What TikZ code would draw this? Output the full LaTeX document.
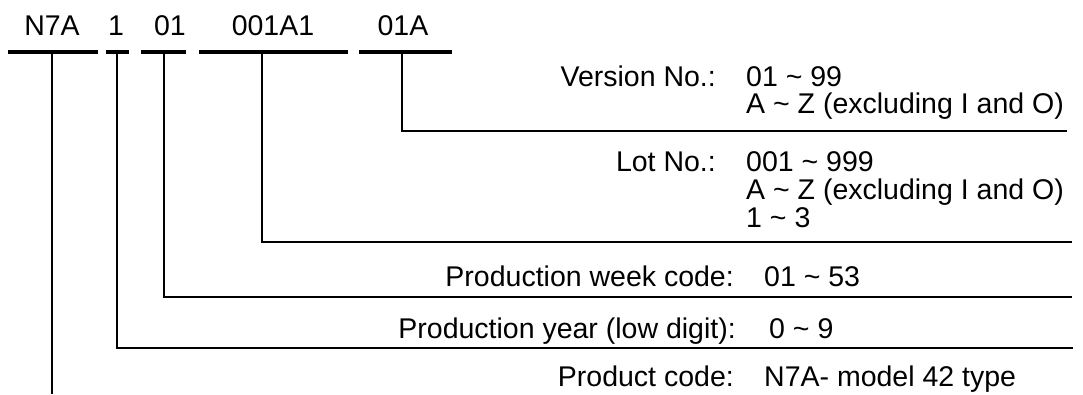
\documentclass[tikz,border=0pt]{standalone}
\usepackage{fontspec}
\setmainfont{Liberation Sans}
\begin{document}
\begin{tikzpicture}[x=1pt,y=-1pt,
  codebar/.style={line width=3.8pt},
  leader/.style={line width=1.6pt},
  txt/.style={font=\fontsize{28.5}{30}\selectfont, inner sep=0pt},
  lbl/.style={txt, anchor=base east},
  val/.style={txt, anchor=base west},
  code/.style={txt, anchor=base}]
\useasboundingbox (0,0) rectangle (1083,394);
% top code labels
\node[code] (tN) at (52,35) {N7A};
\node[code] (tY) at (116,35) {1};
\node[code] (tW) at (170,35) {01};
\node[code] (tL) at (273,35) {001A1};
\node[code] (tV) at (403,35) {01A};
% bars
\draw[codebar] (8,52) -- (98,52);
\draw[codebar] (106,52) -- (129,52);
\draw[codebar] (141,52) -- (186,52);
\draw[codebar] (199,52) -- (348,52);
\draw[codebar] (359,52) -- (452,52);
% leader start points and ends
\coordinate (sN) at (52,52);
\coordinate (sY) at (117,52);
\coordinate (sW) at (164,52);
\coordinate (sL) at (262,52);
\coordinate (sV) at (402,52);
\coordinate (eN) at (52,394);
\coordinate (eY) at (1073,348);
\coordinate (eW) at (1072,297);
\coordinate (eL) at (1072,242);
\coordinate (eV) at (1067,131);
\draw[leader] (sN) -- (eN);
\draw[leader] (sY) |- (eY);
\draw[leader] (sW) |- (eW);
\draw[leader] (sL) |- (eL);
\draw[leader] (sV) |- (eV);
% descriptions
\node[lbl] (lV) at (716,86) {Version No.:};
\node[val] (v1) at (746,86) {01 \char`\~{} 99};
\node[val] (v2) at (746,113) {A \char`\~{} Z (excluding I and O)};
\node[lbl] (lL) at (716,171) {Lot No.:};
\node[val] (l1) at (746,171) {001 \char`\~{} 999};
\node[val] (l2) at (746,199) {A \char`\~{} Z (excluding I and O)};
\node[val] (l3) at (746,227) {1 \char`\~{} 3};
\node[lbl] (lW) at (734,286) {Production week code:};
\node[val] (w1) at (764,286) {01 \char`\~{} 53};
\node[lbl] (lY) at (736,338) {Production year (low digit):};
\node[val] (y1) at (769,338) {0 \char`\~{} 9};
\node[lbl] (lP) at (734,386) {Product code:};
\node[val] (p1) at (764,386) {N7A- model 42 type};
\end{tikzpicture}
\end{document}
